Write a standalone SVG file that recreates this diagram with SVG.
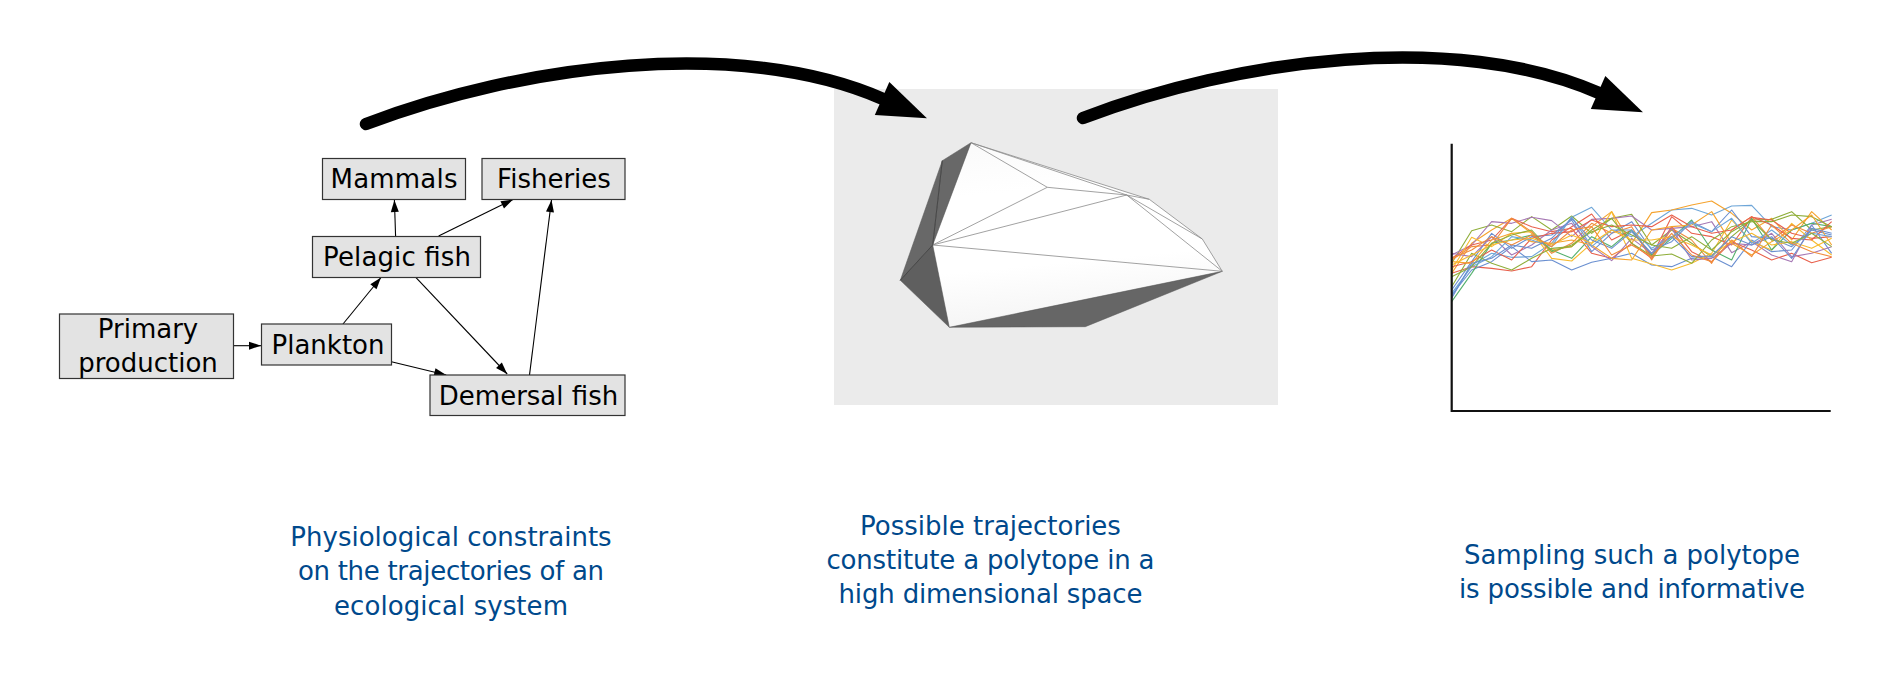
<svg xmlns="http://www.w3.org/2000/svg" width="1890" height="674" viewBox="0 0 1890 674">
<style>
.box{fill:#e3e3e3;stroke:#333;stroke-width:1.2}
.lbl{font-family:"DejaVu Sans",sans-serif;font-size:26px;fill:#000;text-anchor:middle}
.cap{font-family:"DejaVu Sans",sans-serif;font-size:26px;fill:#00498c;text-anchor:middle}
.edge{fill:none;stroke:#000;stroke-width:1.1;marker-end:url(#ah)}
.big{fill:none;stroke:#000;stroke-width:12.5;stroke-linecap:round;marker-end:url(#bh)}
.dark{fill:#686868;stroke:#555;stroke-width:.5}
.pl{fill:none;stroke:#8a8a8a;stroke-width:.8}
.s polyline{fill:none;stroke-width:3.3;stroke-linejoin:round}
</style>
<defs>
<marker id="ah" markerUnits="userSpaceOnUse" markerWidth="12" markerHeight="8" refX="12" refY="4" orient="auto" overflow="visible"><path d="M0,0L12,4L0,8Z" fill="#000"/></marker>
<marker id="bh" markerUnits="userSpaceOnUse" markerWidth="49" markerHeight="36" refX="1" refY="18" orient="auto" overflow="visible"><path d="M0,0L49,18L0,36Z" fill="#000"/></marker>
<linearGradient id="pg" x1="0" y1="0" x2="0.15" y2="1"><stop offset="0" stop-color="#fafafa"/><stop offset=".3" stop-color="#fff"/><stop offset=".7" stop-color="#fff"/><stop offset="1" stop-color="#f5f5f5"/></linearGradient>
</defs>
<rect width="1890" height="674" fill="#fff"/>
<g id="polytope-panel">
<rect x="834" y="89" width="444" height="316" fill="#ebebeb"/>
<polygon points="971,142.7 932.7,245 949.3,327.3 1222.3,271.3 1202.3,239 1149.3,199.3" fill="url(#pg)"/>
<polygon class="dark" points="971,142.7 942.3,160.7 932.7,245"/>
<polygon class="dark" points="942.3,160.7 900.3,280.3 932.7,245"/>
<polygon class="dark" points="932.7,245 900.3,280.3 949.3,327.3" style="fill:#5f5f5f"/>
<polygon class="dark" points="949.3,327.3 1085.3,326.7 1222.3,271.3" style="fill:#666"/>
<path class="pl" d="M971,142.7L1047.3,187.3L1126.7,195M1047.3,187.3L932.7,245L1126.7,195M932.7,245L1222.3,271.3L1126.7,195L1202.3,239M971,142.7L1126.7,195L1149.3,199.3L1202.3,239L1222.3,271.3M971,142.7L1149.3,199.3"/>
<path d="M942.3,160.7L932.7,245L900.3,280.3" fill="none" stroke="#3c3c3c" stroke-width=".7"/>
</g>
<g id="connectors">
<path class="edge" d="M233.6,345.7L261,345.7"/>
<path class="edge" d="M343,324L381,277.5"/>
<path class="edge" d="M395.6,236.3L394.4,200"/>
<path class="edge" d="M438.6,236L513,199.5"/>
<path class="edge" d="M415.8,277.3L507.2,374"/>
<path class="edge" d="M391.4,361.7L446.2,375"/>
<path class="edge" d="M529.5,375L551.5,200"/>
<path class="big" d="M366,124C520,65 740,36 883,99"/>
<path class="big" d="M1083,118C1236,59 1456,30 1599,93"/>
</g>
<g id="primary"><rect class="box" x="59.5" y="314" width="174" height="64.5"/><text class="lbl" x="148" y="338.3">Primary</text><text class="lbl" x="148" y="372.3">production</text></g>
<g id="plankton"><rect class="box" x="261.5" y="324" width="130" height="41"/><text class="lbl" x="328" y="354">Plankton</text></g>
<g id="pelagic"><rect class="box" x="312.5" y="236.5" width="168" height="41"/><text class="lbl" x="397" y="266.3" textLength="148">Pelagic fish</text></g>
<g id="mammals"><rect class="box" x="322.5" y="158.5" width="143" height="41"/><text class="lbl" x="394" y="188.3" textLength="127">Mammals</text></g>
<g id="fisheries"><rect class="box" x="482" y="158.5" width="143" height="41"/><text class="lbl" x="554" y="188.3">Fisheries</text></g>
<g id="demersal"><rect class="box" x="430" y="375" width="195" height="40.5"/><text class="lbl" x="528.5" y="404.7">Demersal fish</text></g>
<g id="chart">
<g class="s" transform="translate(1430,130) scale(.33333)">
<polyline stroke="#6ea6d8" points="65,500 125,405 185,370 245,382 305,380 365,340 425,262 485,232 545,300 605,320 665,280 725,240 785,235 845,255 905,228 965,226 1025,290 1085,300 1145,280 1205,255"/>
<polyline stroke="#f5a32e" points="65,430 125,340 185,300 245,265 305,310 365,360 425,350 485,290 545,245 605,340 665,248 725,240 785,225 845,213 905,250 965,300 1025,265 1085,330 1145,245 1205,300"/>
<polyline stroke="#8fae3a" points="65,400 125,302 185,285 245,305 305,260 365,300 425,258 485,310 545,265 605,253 665,345 725,300 785,340 845,380 905,320 965,270 1025,268 1085,245 1145,300 1205,290"/>
<polyline stroke="#a678b4" points="65,375 125,345 185,275 245,280 305,262 365,272 425,320 485,268 545,265 605,258 665,300 725,295 785,290 845,275 905,368 965,335 1025,375 1085,395 1145,285 1205,268"/>
<polyline stroke="#e8604c" points="65,430 125,410 185,415 245,423 305,410 365,330 425,290 485,252 545,330 605,300 665,380 725,260 785,310 845,320 905,345 965,262 1025,270 1085,310 1145,325 1205,320"/>
<polyline stroke="#e8604c" points="65,385 125,345 185,330 245,265 305,290 365,305 425,295 485,370 545,385 605,340 665,385 725,290 785,365 845,395 905,335 965,360 1025,390 1085,370 1145,398 1205,382"/>
<polyline stroke="#6a8fd0" points="65,495 125,420 185,395 245,350 305,395 365,390 425,420 485,397 545,385 605,370 665,405 725,410 785,385 845,380 905,410 965,330 1025,365 1085,360 1145,285 1205,370"/>
<polyline stroke="#f7bb2e" points="65,420 125,322 185,350 245,310 305,305 365,385 425,393 485,340 545,245 605,385 665,402 725,420 785,400 845,370 905,270 965,335 1025,360 1085,280 1145,330 1205,375"/>
<polyline stroke="#55b06d" points="65,515 125,430 185,340 245,330 305,315 365,360 425,385 485,320 545,350 605,300 665,375 725,325 785,270 845,360 905,390 965,265 1025,360 1085,300 1145,280 1205,290"/>
<polyline stroke="#f08a3c" points="65,390 125,350 185,345 245,265 305,305 365,370 425,340 485,280 545,310 605,290 665,390 725,295 785,330 845,400 905,300 965,260 1025,330 1085,285 1145,310 1205,290"/>
<polyline stroke="#6a8fd0" points="65,480 125,395 185,310 245,355 305,320 365,315 425,270 485,365 545,310 605,275 665,360 725,335 785,275 845,305 905,240 965,320 1025,325 1085,350 1145,300 1205,315"/>
<polyline stroke="#a678b4" points="65,370 125,380 185,320 245,375 305,345 365,300 425,280 485,350 545,392 605,325 665,370 725,295 785,390 845,385 905,340 965,345 1025,310 1085,380 1145,370 1205,350"/>
<polyline stroke="#8fae3a" points="65,470 125,370 185,400 245,420 305,385 365,355 425,350 485,300 545,265 605,340 665,378 725,372 785,400 845,330 905,290 965,275 1025,275 1085,255 1145,260 1205,290"/>
<polyline stroke="#e8604c" points="65,410 125,395 185,360 245,390 305,325 365,310 425,305 485,270 545,290 605,285 665,290 725,255 785,290 845,310 905,300 965,260 1025,285 1085,325 1145,330 1205,275"/>
<polyline stroke="#f5a32e" points="65,395 125,400 185,330 245,310 305,335 365,340 425,330 485,345 545,385 605,390 665,300 725,290 785,285 845,245 905,340 965,375 1025,335 1085,300 1145,255 1205,345"/>
<polyline stroke="#6ea6d8" points="65,490 125,410 185,380 245,320 305,330 365,350 425,260 485,350 545,300 605,300 665,355 725,320 785,280 845,305 905,265 965,340 1025,300 1085,345 1145,310 1205,320"/>
<polyline stroke="#f7bb2e" points="65,405 125,375 185,345 245,330 305,325 365,345 425,315 485,340 545,300 605,330 665,330 725,320 785,345 845,375 905,335 965,310 1025,345 1085,335 1145,355 1205,325"/>
<polyline stroke="#8fae3a" points="65,440 125,410 185,340 245,315 305,300 365,365 425,345 485,305 545,285 605,315 665,345 725,355 785,320 845,360 905,305 965,270 1025,330 1085,340 1145,310 1205,350"/>
<polyline stroke="#6a8fd0" points="65,505 125,400 185,385 245,345 305,355 365,325 425,265 485,330 545,355 605,305 665,370 725,320 785,380 845,378 905,320 965,345 1025,320 1085,385 1145,295 1205,310"/>
<polyline stroke="#f08a3c" points="65,385 125,360 185,320 245,345 305,315 365,350 425,300 485,290 545,375 605,345 665,380 725,310 785,375 845,395 905,330 965,380 1025,285 1085,340 1145,365 1205,380"/>
</g>
<path d="M1451.7,143.7V411H1830.7" fill="none" stroke="#111" stroke-width="2.2"/>
</g>
<g id="captions">
<text class="cap" x="451" y="545.7">Physiological constraints</text>
<text class="cap" x="451" y="580" textLength="306">on the trajectories of an</text>
<text class="cap" x="451" y="614.7" textLength="234">ecological system</text>
<text class="cap" x="990.5" y="534.5">Possible trajectories</text>
<text class="cap" x="990.5" y="568.5" textLength="328">constitute a polytope in a</text>
<text class="cap" x="990.5" y="602.5" textLength="304">high dimensional space</text>
<text class="cap" x="1632" y="563.5" textLength="336">Sampling such a polytope</text>
<text class="cap" x="1632" y="597.5" textLength="346">is possible and informative</text>
</g>
</svg>
